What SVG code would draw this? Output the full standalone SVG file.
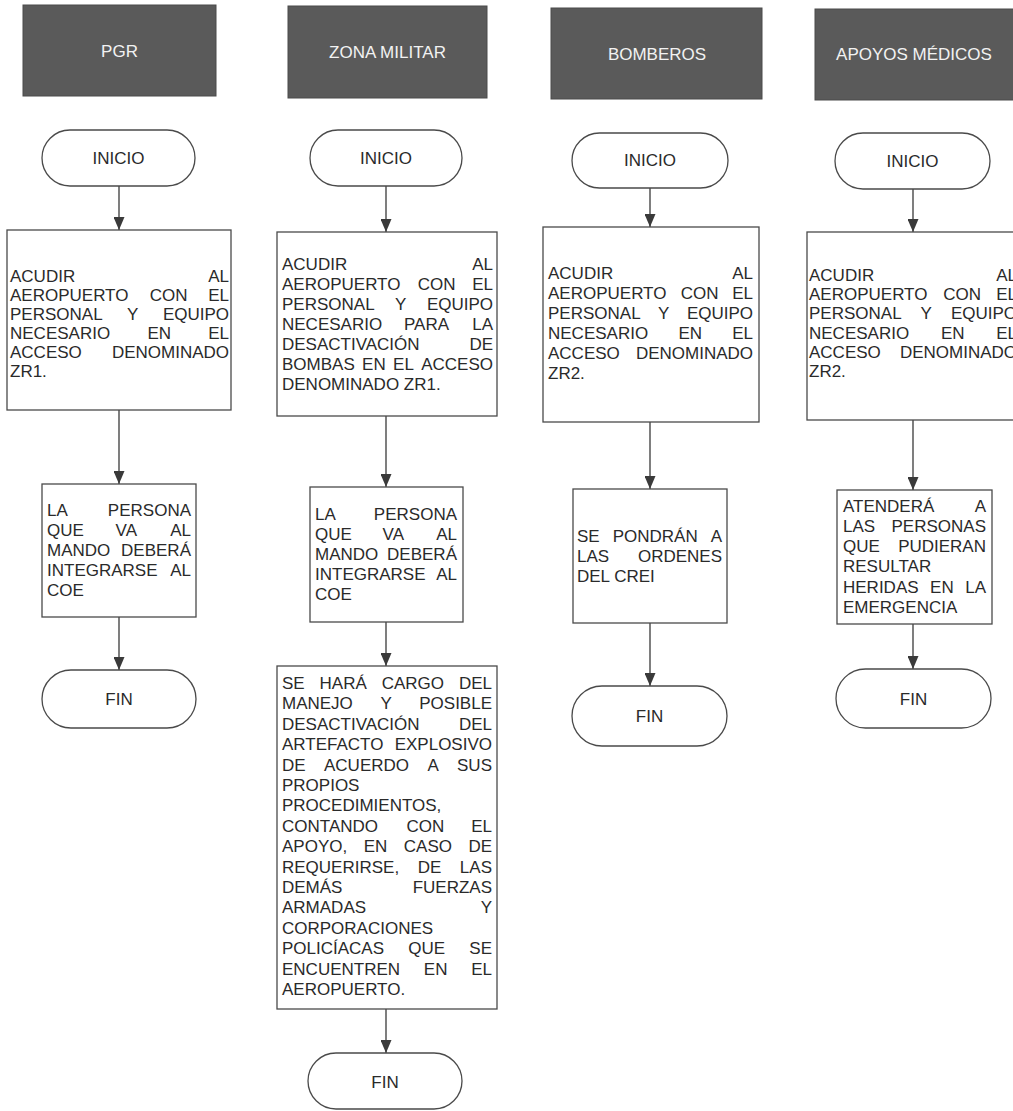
<svg xmlns="http://www.w3.org/2000/svg" width="1013" height="1111" viewBox="0 0 1013 1111">
<style>
.t{font-family:"Liberation Sans",Arial,sans-serif;font-size:17px;fill:#2a2a2a}
.e{text-anchor:end}
.m{text-anchor:middle}
.h{font-family:"Liberation Sans",Arial,sans-serif;font-size:17px;fill:#f2f2f2;text-anchor:middle}
.hd{fill:#5a5a5a;stroke:#4a4a4a;stroke-width:1}
.box{fill:#fff;stroke:#4a4a4a;stroke-width:1.3}
.ln{stroke:#3a3a3a;stroke-width:1.3;fill:none;marker-end:url(#ah)}
</style>
<defs>
<marker id="ah" markerUnits="userSpaceOnUse" markerWidth="13" markerHeight="11" viewBox="0 0 13 11" refX="13" refY="5.5" orient="auto">
<path d="M0,0 L13,5.5 L0,11 z" fill="#3a3a3a"/>
</marker>
</defs>
<rect width="1013" height="1111" fill="#fff"/>

<g id="connectors">
<line class="ln" x1="119" y1="186" x2="119" y2="230"/>
<line class="ln" x1="119" y1="410" x2="119" y2="484"/>
<line class="ln" x1="119" y1="617" x2="119" y2="670"/>
<line class="ln" x1="386" y1="186" x2="386" y2="232"/>
<line class="ln" x1="386" y1="416" x2="386" y2="487"/>
<line class="ln" x1="386" y1="622" x2="386" y2="666"/>
<line class="ln" x1="386" y1="1009" x2="386" y2="1053"/>
<line class="ln" x1="650" y1="188" x2="650" y2="227"/>
<line class="ln" x1="650" y1="422" x2="650" y2="489"/>
<line class="ln" x1="650" y1="623" x2="650" y2="686"/>
<line class="ln" x1="913" y1="189" x2="913" y2="232"/>
<line class="ln" x1="913" y1="420" x2="913" y2="490"/>
<line class="ln" x1="913" y1="624" x2="913" y2="669"/>
</g>

<!-- Headers -->
<g id="h-pgr"><rect class="hd" x="23" y="5" width="193" height="91"/><text class="h" x="119.5" y="57">PGR</text></g>
<g id="h-zona"><rect class="hd" x="288" y="6" width="199" height="92"/><text class="h" x="387.5" y="58">ZONA MILITAR</text></g>
<g id="h-bomberos"><rect class="hd" x="551" y="8" width="211" height="91"/><text class="h" x="657" y="60">BOMBEROS</text></g>
<g id="h-apoyos"><rect class="hd" x="815" y="9" width="210" height="91"/><text class="h" x="914" y="60">APOYOS MÉDICOS</text></g>

<!-- PGR column -->
<g id="pgr-inicio"><rect class="box" x="42" y="130" width="153" height="56" rx="28"/><text class="t m" x="118.5" y="164">INICIO</text></g>
<g id="pgr-p1"><rect class="box" x="7" y="230" width="224" height="180"/>
<text class="t" x="10" y="282">ACUDIR</text><text class="t e" x="229" y="282">AL</text>
<text class="t" x="10" y="301">AEROPUERTO</text><text class="t" x="149.7" y="301">CON</text><text class="t e" x="229" y="301">EL</text>
<text class="t" x="10" y="320">PERSONAL</text><text class="t" x="127.1" y="320">Y</text><text class="t e" x="229" y="320">EQUIPO</text>
<text class="t" x="10" y="339">NECESARIO</text><text class="t" x="147.4" y="339">EN</text><text class="t e" x="229" y="339">EL</text>
<text class="t" x="10" y="358">ACCESO</text><text class="t e" x="229" y="358">DENOMINADO</text>
<text class="t" x="10" y="377">ZR1.</text>
</g>
<g id="pgr-p2"><rect class="box" x="42" y="484" width="154" height="133"/>
<text class="t" x="47" y="516">LA</text><text class="t e" x="191" y="516">PERSONA</text>
<text class="t" x="47" y="536">QUE</text><text class="t" x="115.6" y="536">VA</text><text class="t e" x="191" y="536">AL</text>
<text class="t" x="47" y="556">MANDO</text><text class="t e" x="191" y="556">DEBERÁ</text>
<text class="t" x="47" y="576">INTEGRARSE</text><text class="t e" x="191" y="576">AL</text>
<text class="t" x="47" y="596">COE</text>
</g>
<g id="pgr-fin"><rect class="box" x="42" y="670" width="154" height="58" rx="29"/><text class="t m" x="119" y="705">FIN</text></g>

<!-- ZONA MILITAR column -->
<g id="zona-inicio"><rect class="box" x="310" y="130" width="152" height="56" rx="28"/><text class="t m" x="386" y="164">INICIO</text></g>
<g id="zona-p1"><rect class="box" x="277" y="232" width="220" height="184"/>
<text class="t" x="282" y="270">ACUDIR</text><text class="t e" x="493" y="270">AL</text>
<text class="t" x="282" y="290">AEROPUERTO</text><text class="t" x="417.7" y="290">CON</text><text class="t e" x="493" y="290">EL</text>
<text class="t" x="282" y="310">PERSONAL</text><text class="t" x="395.1" y="310">Y</text><text class="t e" x="493" y="310">EQUIPO</text>
<text class="t" x="282" y="330">NECESARIO</text><text class="t" x="404" y="330">PARA</text><text class="t e" x="493" y="330">LA</text>
<text class="t" x="282" y="350">DESACTIVACIÓN</text><text class="t e" x="493" y="350">DE</text>
<text class="t" x="282" y="370">BOMBAS</text><text class="t" x="362.1" y="370">EN</text><text class="t" x="393.1" y="370">EL</text><text class="t e" x="493" y="370">ACCESO</text>
<text class="t" x="282" y="390">DENOMINADO ZR1.</text>
</g>
<g id="zona-p2"><rect class="box" x="310" y="487" width="153" height="135"/>
<text class="t" x="315" y="520">LA</text><text class="t e" x="457" y="520">PERSONA</text>
<text class="t" x="315" y="540">QUE</text><text class="t" x="382.6" y="540">VA</text><text class="t e" x="457" y="540">AL</text>
<text class="t" x="315" y="560">MANDO</text><text class="t e" x="457" y="560">DEBERÁ</text>
<text class="t" x="315" y="580">INTEGRARSE</text><text class="t e" x="457" y="580">AL</text>
<text class="t" x="315" y="600">COE</text>
</g>
<g id="zona-p3"><rect class="box" x="277" y="666" width="220" height="343"/>
<text class="t" x="282" y="689">SE</text><text class="t" x="319.6" y="689">HARÁ</text><text class="t" x="381.7" y="689">CARGO</text><text class="t e" x="492" y="689">DEL</text>
<text class="t" x="282" y="709.4">MANEJO</text><text class="t" x="380.4" y="709.4">Y</text><text class="t e" x="492" y="709.4">POSIBLE</text>
<text class="t" x="282" y="729.8">DESACTIVACIÓN</text><text class="t e" x="492" y="729.8">DEL</text>
<text class="t" x="282" y="750.2">ARTEFACTO</text><text class="t e" x="492" y="750.2">EXPLOSIVO</text>
<text class="t" x="282" y="770.6">DE</text><text class="t" x="324" y="770.6">ACUERDO</text><text class="t" x="427.4" y="770.6">A</text><text class="t e" x="492" y="770.6">SUS</text>
<text class="t" x="282" y="791">PROPIOS</text>
<text class="t" x="282" y="811.4">PROCEDIMIENTOS,</text>
<text class="t" x="282" y="831.8">CONTANDO</text><text class="t" x="406.4" y="831.8">CON</text><text class="t e" x="492" y="831.8">EL</text>
<text class="t" x="282" y="852.2">APOYO,</text><text class="t" x="363.7" y="852.2">EN</text><text class="t" x="403.8" y="852.2">CASO</text><text class="t e" x="492" y="852.2">DE</text>
<text class="t" x="282" y="872.6">REQUERIRSE,</text><text class="t" x="417.7" y="872.6">DE</text><text class="t e" x="492" y="872.6">LAS</text>
<text class="t" x="282" y="893">DEMÁS</text><text class="t e" x="492" y="893">FUERZAS</text>
<text class="t" x="282" y="913.4">ARMADAS</text><text class="t e" x="492" y="913.4">Y</text>
<text class="t" x="282" y="933.8">CORPORACIONES</text>
<text class="t" x="282" y="954.2">POLICÍACAS</text><text class="t" x="408.3" y="954.2">QUE</text><text class="t e" x="492" y="954.2">SE</text>
<text class="t" x="282" y="974.6">ENCUENTREN</text><text class="t" x="423.8" y="974.6">EN</text><text class="t e" x="492" y="974.6">EL</text>
<text class="t" x="282" y="995">AEROPUERTO.</text>
</g>
<g id="zona-fin"><rect class="box" x="308" y="1053" width="154" height="56" rx="28"/><text class="t m" x="385" y="1088">FIN</text></g>

<!-- BOMBEROS column -->
<g id="bomb-inicio"><rect class="box" x="572" y="133" width="156" height="55" rx="27.5"/><text class="t m" x="650" y="166">INICIO</text></g>
<g id="bomb-p1"><rect class="box" x="543" y="227" width="216" height="195"/>
<text class="t" x="548" y="279">ACUDIR</text><text class="t e" x="753" y="279">AL</text>
<text class="t" x="548" y="299">AEROPUERTO</text><text class="t" x="680.7" y="299">CON</text><text class="t e" x="753" y="299">EL</text>
<text class="t" x="548" y="319">PERSONAL</text><text class="t" x="658.1" y="319">Y</text><text class="t e" x="753" y="319">EQUIPO</text>
<text class="t" x="548" y="339">NECESARIO</text><text class="t" x="678.4" y="339">EN</text><text class="t e" x="753" y="339">EL</text>
<text class="t" x="548" y="359">ACCESO</text><text class="t e" x="753" y="359">DENOMINADO</text>
<text class="t" x="548" y="379">ZR2.</text>
</g>
<g id="bomb-p2"><rect class="box" x="573" y="489" width="154" height="134"/>
<text class="t" x="577" y="542">SE</text><text class="t" x="612.7" y="542">PONDRÁN</text><text class="t e" x="722" y="542">A</text>
<text class="t" x="577" y="562">LAS</text><text class="t e" x="722" y="562">ORDENES</text>
<text class="t" x="577" y="582">DEL CREI</text>
</g>
<g id="bomb-fin"><rect class="box" x="572" y="686" width="155" height="60" rx="30"/><text class="t m" x="649.5" y="722">FIN</text></g>

<!-- APOYOS MEDICOS column -->
<g id="apoyo-inicio"><rect class="box" x="835" y="133" width="155" height="56" rx="28"/><text class="t m" x="912.5" y="167">INICIO</text></g>
<g id="apoyo-p1"><rect class="box" x="807" y="232" width="215" height="188"/>
<text class="t" x="809" y="281">ACUDIR</text><text class="t e" x="1017" y="281">AL</text>
<text class="t" x="809" y="300">AEROPUERTO</text><text class="t" x="943.2" y="300">CON</text><text class="t e" x="1017" y="300">EL</text>
<text class="t" x="809" y="319">PERSONAL</text><text class="t" x="920.6" y="319">Y</text><text class="t e" x="1017" y="319">EQUIPO</text>
<text class="t" x="809" y="338.5">NECESARIO</text><text class="t" x="940.9" y="338.5">EN</text><text class="t e" x="1017" y="338.5">EL</text>
<text class="t" x="809" y="358">ACCESO</text><text class="t e" x="1017" y="358">DENOMINADO</text>
<text class="t" x="809" y="377">ZR2.</text>
</g>
<g id="apoyo-p2"><rect class="box" x="837" y="490" width="155" height="134"/>
<text class="t" x="843" y="512">ATENDERÁ</text><text class="t e" x="986" y="512">A</text>
<text class="t" x="843" y="532">LAS</text><text class="t e" x="986" y="532">PERSONAS</text>
<text class="t" x="843" y="552">QUE</text><text class="t e" x="986" y="552">PUDIERAN</text>
<text class="t" x="843" y="572">RESULTAR</text>
<text class="t" x="843" y="593">HERIDAS</text><text class="t" x="930.1" y="593">EN</text><text class="t e" x="986" y="593">LA</text>
<text class="t" x="843" y="613">EMERGENCIA</text>
</g>
<g id="apoyo-fin"><rect class="box" x="836" y="669" width="155" height="59" rx="29.5"/><text class="t m" x="913.5" y="705">FIN</text></g>
</svg>
